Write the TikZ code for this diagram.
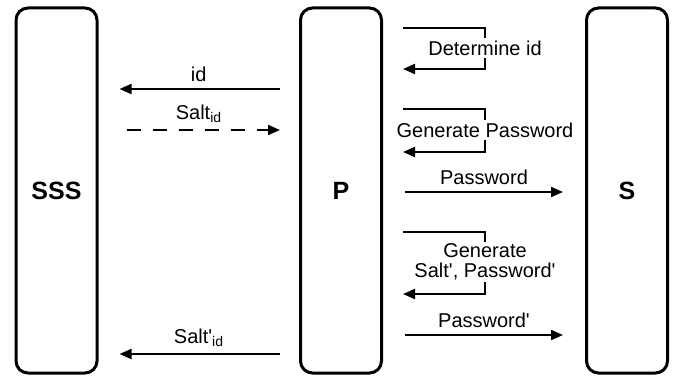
\documentclass[tikz,border=0pt]{standalone}
\usepackage{fontspec}
\setmainfont{Liberation Sans}[Ligatures=TeXOff]
\usetikzlibrary{arrows.meta}
\tikzset{
  lane/.style={draw, line width=3pt, rounded corners=12pt, minimum width=81pt, minimum height=365pt, font=\fontsize{25}{30}\selectfont\bfseries},
  msg/.style={line width=2pt, -{Triangle[length=12pt,width=10pt]}},
  lbl/.style={font=\fontsize{20}{20}\selectfont, inner sep=2pt},
  note/.style={lbl, fill=white, align=center}
}
\begin{document}
\begin{tikzpicture}[x=1pt,y=-1pt]
  \useasboundingbox (0,0) rectangle (680,377);
  % lanes
  \node[lane] (sss) at (56.5,190.5) {SSS};
  \node[lane] (p) at (341,190.5) {P};
  \node[lane] (s) at (627,190.5) {S};
  % P and SSS
  \draw[msg, shorten <=19pt, shorten >=21pt] (p.west |- 0,89) -- node[lbl, above=4pt] {id} (sss.east |- 0,89);
  \draw[msg, dash pattern=on 14pt off 12pt, shorten <=28pt, shorten >=19pt] (sss.east |- 0,130) -- node[lbl, above=4pt] {Salt\textsubscript{id}} (p.west |- 0,130);
  \draw[msg, shorten <=19pt, shorten >=21pt] (p.west |- 0,354) -- node[lbl, above=4pt] {Salt'\textsubscript{id}} (sss.east |- 0,354);
  % P and S
  \draw[msg, shorten <=22pt, shorten >=22pt] (p.east |- 0,192) -- node[lbl, above=4pt] {Password} (s.west |- 0,192);
  \draw[msg, shorten <=22pt, shorten >=22pt] (p.east |- 0,335) -- node[lbl, above=4pt] {Password'} (s.west |- 0,335);
  % local steps of P
  \coordinate (did in) at (403,28);
  \coordinate (did out) at (403,69);
  \node[note] (did) at (485,48) {Determine id};
  \draw[line width=2pt] (did in) -| (did.north);
  \draw[msg] (did.south) |- (did out);
  \coordinate (gpw in) at (403,109);
  \coordinate (gpw out) at (403,152);
  \node[note] (gpw) at (485,130) {Generate Password};
  \draw[line width=2pt] (gpw in) -| (gpw.north);
  \draw[msg] (gpw.south) |- (gpw out);
  \coordinate (gsp in) at (403,232);
  \coordinate (gsp out) at (403,294);
  \node[note] (gsp) at (485,262) {Generate\\Salt', Password'};
  \draw[line width=2pt] (gsp in) -| (gsp.north);
  \draw[msg] (gsp.south) |- (gsp out);
\end{tikzpicture}
\end{document}
